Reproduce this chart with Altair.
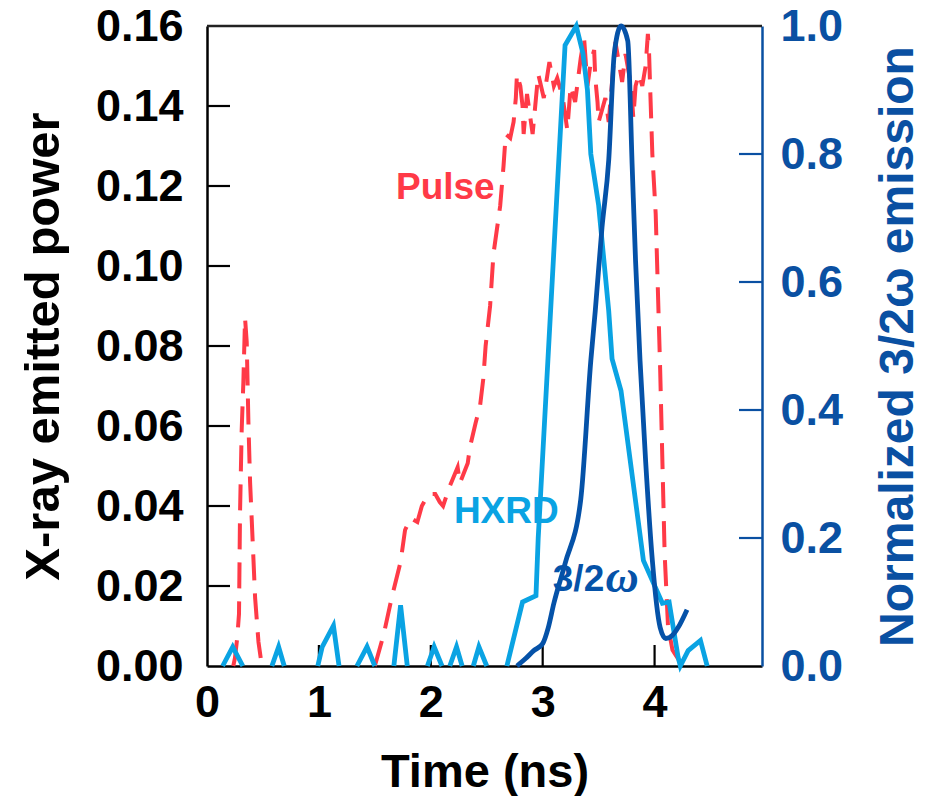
import altair as alt
import pandas as pd

# ---------------- data ----------------
# Laser pulse (left axis, dashed red), two separate pieces
pulse1_t = [0.235, 0.25, 0.27, 0.286, 0.295, 0.31, 0.325, 0.34, 0.355, 0.37,
            0.385, 0.41, 0.43, 0.46, 0.49]
pulse1_p = [0.0, 0.002, 0.007, 0.013, 0.038, 0.059, 0.071, 0.087, 0.081, 0.061,
            0.046, 0.030, 0.017, 0.006, 0.0]

pulse2_t = [1.50, 1.58, 1.65, 1.73, 1.77, 1.82, 1.88, 1.92, 1.98, 2.04, 2.08, 2.11,
            2.17, 2.24, 2.26, 2.33, 2.35, 2.40, 2.44, 2.47, 2.49, 2.53, 2.56, 2.62,
            2.65, 2.67, 2.71, 2.74, 2.76, 2.77, 2.80, 2.82, 2.83, 2.86, 2.89, 2.91,
            2.94, 2.96, 3.01, 3.06, 3.10, 3.13, 3.18, 3.22, 3.25, 3.29, 3.34, 3.37,
            3.38, 3.40, 3.43, 3.46, 3.47, 3.49, 3.50, 3.53, 3.56, 3.59, 3.62, 3.65,
            3.68, 3.71, 3.74, 3.79, 3.81, 3.83, 3.86, 3.89, 3.92, 3.94, 3.95, 3.96,
            3.98, 4.01, 4.05, 4.09, 4.12, 4.16, 4.25]
pulse2_p = [0.0, 0.008, 0.017, 0.026, 0.034, 0.037, 0.036, 0.040, 0.043, 0.043, 0.041, 0.040,
            0.045, 0.0497, 0.0457, 0.0507, 0.0547, 0.0607, 0.065, 0.072, 0.080, 0.090, 0.103, 0.115,
            0.125, 0.133, 0.132, 0.136, 0.142, 0.148, 0.145, 0.140, 0.133, 0.143, 0.137, 0.133,
            0.142, 0.148, 0.142, 0.151, 0.145, 0.147, 0.142, 0.134, 0.145, 0.141, 0.152, 0.157,
            0.153, 0.145, 0.151, 0.154, 0.147, 0.141, 0.136, 0.139, 0.142, 0.136, 0.146, 0.156,
            0.151, 0.146, 0.153, 0.145, 0.137, 0.145, 0.148, 0.145, 0.150, 0.158, 0.154, 0.145,
            0.128, 0.113, 0.074, 0.028, 0.010, 0.004, 0.0]

# HXRD (right axis, normalized), pieces separated by segment id
hxrd_t = [0.14, 0.23, 0.32,
          0.58, 0.64, 0.69,
          0.99, 1.03, 1.13, 1.18,
          1.34, 1.43, 1.50,
          1.67, 1.73, 1.79,
          1.97, 2.03, 2.10,
          2.17, 2.23, 2.28,
          2.38, 2.43, 2.50,
          2.68, 2.82, 2.94, 2.96, 3.20, 3.30, 3.36, 3.40, 3.43, 3.50, 3.59, 3.62,
          3.70, 3.90, 4.07, 4.13, 4.21, 4.23, 4.30, 4.41, 4.47]
hxrd_v = [0.0, 0.03, 0.0,
          0.0, 0.03, 0.0,
          0.0, 0.03, 0.063, 0.0,
          0.0, 0.03, 0.0,
          0.0, 0.095, 0.0,
          0.0, 0.03, 0.0,
          0.0, 0.03, 0.0,
          0.0, 0.03, 0.0,
          0.0, 0.10, 0.11, 0.20, 0.97, 1.0, 0.957, 0.90, 0.80, 0.72, 0.555, 0.48,
          0.43, 0.165, 0.098, 0.10, 0.014, 0.0, 0.024, 0.04, 0.0]
hxrd_seg_len = [3, 3, 4, 3, 3, 3, 3, 3, 21]

# 3/2 omega emission (right axis, normalized)
omega_t = [2.77, 2.85, 2.92, 3.00, 3.05, 3.10, 3.20, 3.34, 3.43, 3.47, 3.53, 3.59,
           3.64, 3.70, 3.76, 3.80, 3.83, 3.87, 3.92, 3.98, 4.05, 4.10, 4.16, 4.21, 4.29]
omega_v = [0.0, 0.012, 0.024, 0.035, 0.06, 0.098, 0.16, 0.26, 0.477, 0.555, 0.685, 0.79,
           0.957, 1.0, 0.977, 0.78, 0.633, 0.477, 0.32, 0.165, 0.06, 0.043, 0.048, 0.06, 0.088]

# axis tick values
x_ticks = [0, 1, 2, 3, 4]
yl_ticks = [0.0, 0.02, 0.04, 0.06, 0.08, 0.10, 0.12, 0.14, 0.16]
yr_ticks = [0.0, 0.2, 0.4, 0.6, 0.8, 1.0]

# in-plot labels (positions in data units of the left axis)
lab_text = ["Pulse", "HXRD", "3/2"]
lab_t = [2.13, 2.675, 3.32]
lab_p = [0.1194, 0.0384, 0.0214]
omega_lab_t = [3.32]
omega_lab_p = [0.0214]

# ---------------- styling ----------------
W, H = 555, 640
RED = "#FF3A47"
LBLUE = "#0AA3E3"
DBLUE = "#0552A8"
AXBLUE = "#0A50A2"
FONT = "Liberation Sans"

x_scale = alt.Scale(domain=[0, 4.96], nice=False, zero=False)
yl_scale = alt.Scale(domain=[0, 0.16], nice=False, zero=False)
yr_scale = alt.Scale(domain=[0, 1.0], nice=False, zero=False)

x_axis = alt.Axis(values=x_ticks, title="Time (ns)", ticks=False, grid=False,
                  domainColor="black", domainWidth=2.5, labelFlush=False, labelOverlap=False,
                  labelFont=FONT, labelFontSize=45, labelFontWeight="bold", labelColor="black",
                  labelPadding=14, titleFont=FONT, titleFontSize=47, titleFontWeight="bold",
                  titleColor="black", titlePadding=24)
yl_axis = alt.Axis(values=yl_ticks, format=".2f", title="X-ray emitted power", orient="left",
                   ticks=False, grid=False, domainColor="black", domainWidth=2.5,
                   labelFlush=False, labelOverlap=False,
                   labelFont=FONT, labelFontSize=45, labelFontWeight="bold", labelColor="black",
                   labelPadding=24, titleFont=FONT, titleFontSize=49, titleFontWeight="bold",
                   titleColor="black", titlePadding=27)
yr_axis = alt.Axis(values=yr_ticks, format=".1f", title="Normalized 3/2ω emission", orient="right",
                   ticks=False, grid=False, domainColor=AXBLUE, domainWidth=2.5,
                   labelFlush=False, labelOverlap=False,
                   labelFont=FONT, labelFontSize=45, labelFontWeight="bold", labelColor=AXBLUE,
                   labelPadding=18, titleFont=FONT, titleFontSize=48, titleFontWeight="bold",
                   titleColor=AXBLUE, titlePadding=32, titleAngle=270, titleBaseline="top")

# ---------------- tables ----------------
pulse_df = pd.DataFrame({
    "t": pulse1_t + pulse2_t,
    "p": pulse1_p + pulse2_p,
    "seg": [1] * len(pulse1_t) + [2] * len(pulse2_t),
})
hxrd_seg = [i + 1 for i, n in enumerate(hxrd_seg_len) for _ in range(n)]
hxrd_df = pd.DataFrame({"t": hxrd_t, "v": hxrd_v, "seg": hxrd_seg})
omega_df = pd.DataFrame({"t": omega_t, "v": omega_v})
xt_df = pd.DataFrame({"t": x_ticks[1:]})
ylt_df = pd.DataFrame({"p": yl_ticks[1:-1]})
yrt_df = pd.DataFrame({"v": yr_ticks[1:-1]})
lab_df = pd.DataFrame({"t": lab_t, "p": lab_p, "label": lab_text})
olab_df = pd.DataFrame({"t": omega_lab_t, "p": omega_lab_p, "label": ["ω"]})

X = lambda f: alt.X(f, type="quantitative", scale=x_scale, axis=x_axis)
YL = lambda f: alt.Y(f, type="quantitative", scale=yl_scale, axis=yl_axis)
YR = lambda f: alt.Y(f, type="quantitative", scale=yr_scale, axis=yr_axis)

pulse = alt.Chart(pulse_df).mark_line(
    color=RED, strokeWidth=4, strokeDash=[26, 13]
).encode(x=X("t"), y=YL("p"), detail="seg:N", order="t:Q")

left_ticks = alt.Chart(ylt_df).mark_rule(color="black", strokeWidth=2.2).encode(
    y=YL("p"), x=alt.value(0), x2=alt.value(23))

bottom_ticks = alt.Chart(xt_df).mark_rule(color="black", strokeWidth=2.2).encode(
    x=X("t"), y=alt.value(H), y2=alt.value(H - 21))

top_border = alt.Chart(pd.DataFrame({"k": [0]})).mark_rule(color="#222222", strokeWidth=2.5).encode(
    x=alt.value(0), x2=alt.value(W), y=alt.value(0))

labels = alt.Chart(lab_df).mark_text(
    font=FONT, fontSize=37, fontWeight="bold", align="center", baseline="middle"
).encode(
    x=X("t"), y=YL("p"), text="label:N",
    color=alt.Color("label:N", scale=alt.Scale(domain=lab_text, range=[RED, LBLUE, DBLUE]), legend=None),
)
labels_sub = alt.Chart(olab_df).mark_text(
    font="Liberation Serif", fontSize=46, fontWeight="bold", fontStyle="italic",
    align="left", baseline="middle", color=DBLUE, dx=27, dy=-2
).encode(x=X("t"), y=YL("p"), text="label:N")

hxrd = alt.Chart(hxrd_df).mark_line(color=LBLUE, strokeWidth=4.8).encode(
    x=X("t"), y=YR("v"), detail="seg:N", order="t:Q")

omega = alt.Chart(omega_df).mark_line(color=DBLUE, strokeWidth=4.8, interpolate="monotone").encode(
    x=X("t"), y=YR("v"), order="t:Q")

right_ticks = alt.Chart(yrt_df).mark_rule(color=AXBLUE, strokeWidth=2.2).encode(
    y=YR("v"), x=alt.value(W - 23), x2=alt.value(W))

left = alt.layer(pulse, left_ticks, bottom_ticks, top_border, labels, labels_sub)
right = alt.layer(hxrd, omega, right_ticks)

chart = alt.layer(left, right).resolve_scale(y="independent", color="independent").properties(
    width=W, height=H,
    padding={"left": 199, "top": 18, "right": 162, "bottom": 130},
    autosize=alt.AutoSizeParams(type="none"),
).configure_view(stroke=None)

chart.save("out.html", embed_options={"renderer": "svg", "actions": False})
